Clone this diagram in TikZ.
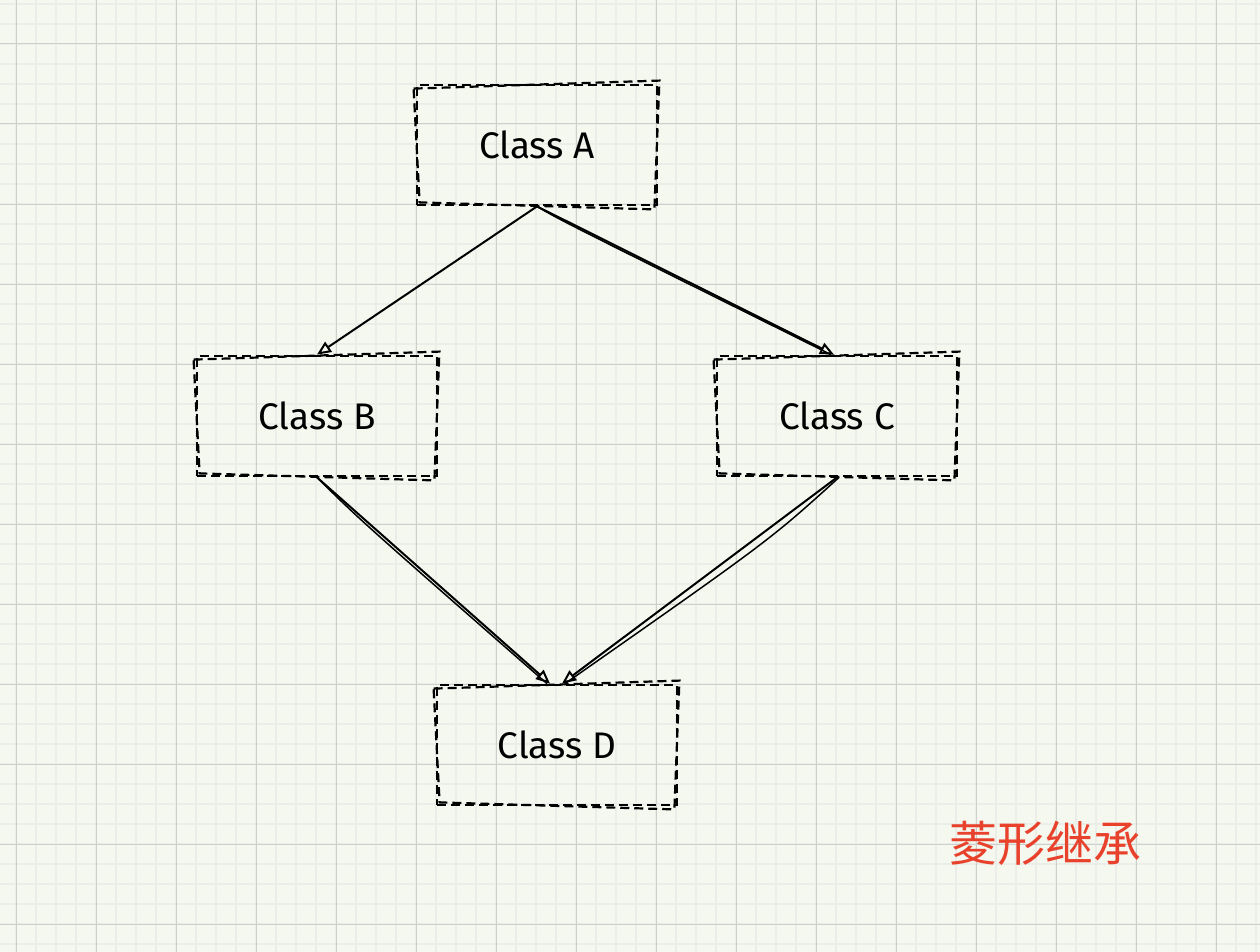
\documentclass[tikz,border=0pt]{standalone}
\usepackage{fontspec}
\setmainfont{Fira Sans}
\newfontfamily\cjk{Noto Sans CJK SC}
\usetikzlibrary{arrows.meta}
\definecolor{bg}{HTML}{F4F8EF}
\definecolor{minorgrid}{HTML}{EBEEE8}
\definecolor{majorgrid}{HTML}{CDCFCB}
\definecolor{titlered}{HTML}{E8412C}
\tikzset{
  minorline/.style={draw=minorgrid, line width=2pt},
  majorline/.style={draw=majorgrid, line width=1pt},
  cls/.style={draw, dashed, dash pattern=on 9pt off 5pt, line width=2.8pt,
    minimum width=240pt, minimum height=120pt, inner sep=0pt,
    font=\fontsize{37}{44}\selectfont},
  sketch/.style={dashed, dash pattern=on 9pt off 5pt, line width=2.2pt},
  arr/.style={line width=2pt, -{Triangle[open,length=14pt,width=12pt,line width=2pt]}},
  thin/.style={line width=1.5pt},
  title/.style={text=titlered, font=\cjk\fontsize{48}{54}\selectfont}
}
\begin{document}
\begin{tikzpicture}[x=1pt,y=-1pt]
\useasboundingbox (0,0) rectangle (1260,952);
\fill[bg] (0,0) rectangle (1260,952);
\foreach \x in {16,36,...,1256} \draw[minorline] (\x,0) -- (\x,952);
\foreach \y in {4,24,...,944} \draw[minorline] (0,\y) -- (1260,\y);
\foreach \x in {16,96,...,1256} \draw[majorline] (\x,0) -- (\x,952);
\foreach \y in {44,124,...,944} \draw[majorline] (0,\y) -- (1260,\y);

\node[cls] (A) at (537,145) {Class A};
\node[cls] (B) at (317,416) {Class B};
\node[cls] (C) at (837,416) {Class C};
\node[cls] (D) at (557,745) {Class D};

\foreach \n in {A,B,C,D}{
  \draw[sketch] ([shift={(-2,5)}]\n.north west) -- ([shift={(1,-3)}]\n.north east)
    -- ([shift={(-4,3)}]\n.south east) -- ([shift={(4,-4)}]\n.south west) -- cycle;
}

\draw[arr] (A.south) -- (B.north);
\draw[arr] (A.south) -- ([xshift=-3pt]C.north);
\draw[thin] (A.south) .. controls (560,220) .. ([xshift=-6pt]C.north);
\draw[arr] (B.south) -- ([xshift=-7pt]D.north);
\draw[thin] (B.south) .. controls (360,520) .. ([xshift=-10pt]D.north);
\draw[arr] (C.south) -- ([xshift=5pt]D.north);
\draw[thin] ([xshift=2pt]C.south) .. controls (770,540) .. ([xshift=8pt]D.north);

\node[title] (T) at (1045,843) {菱形继承};
\end{tikzpicture}
\end{document}
